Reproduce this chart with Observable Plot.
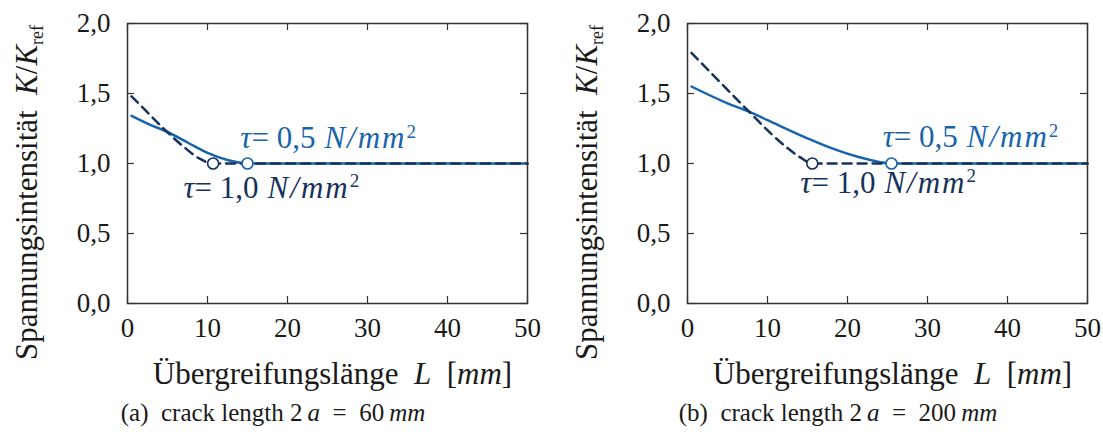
<!DOCTYPE html>
<html><head><meta charset="utf-8">
<script src="https://cdn.jsdelivr.net/npm/d3@7"></script>
<script src="https://cdn.jsdelivr.net/npm/@observablehq/plot@0.6"></script>
<style>
body{margin:0;background:#fff;}
#wrap{position:relative;width:1103px;height:435px;font-family:"Liberation Serif",serif;color:#1a1a1a;}
.panel{position:absolute;top:0;}
.cap{position:absolute;top:399px;font-size:25px;white-space:nowrap;transform:translateX(-50%);font-family:"Liberation Serif",serif;}
.cap i{font-style:italic;}
svg text, svg tspan{font-family:"Liberation Serif",serif;}
</style></head><body><div id="wrap"></div>
<script>
// ---- data ----
const xTicks = [0, 10, 20, 30, 40, 50];
const yTicks = [0, 0.5, 1.0, 1.5, 2.0];

// (a) crack length 2a = 60 mm
const aL_tau05 = [0.5, 2.5, 5, 7.5, 10, 12.5, 15, 50];
const aK_tau05 = [1.34, 1.285, 1.225, 1.15, 1.076, 1.025, 1.0, 1.0];
const aL_tau10 = [0.5, 2.5, 4.5, 7, 9, 10.7, 50];
const aK_tau10 = [1.48, 1.365, 1.25, 1.12, 1.035, 1.0, 1.0];
const aMarkL = [15, 10.7];

// (b) crack length 2a = 200 mm
const bL_tau05 = [0.5, 5, 7.7, 10, 15, 18, 21.5, 25.5, 50];
const bK_tau05 = [1.55, 1.43, 1.37, 1.31, 1.18, 1.11, 1.045, 1.0, 1.0];
const bL_tau10 = [0.5, 4, 7.7, 10.5, 12.5, 14.2, 15.6, 50];
const bK_tau10 = [1.79, 1.585, 1.37, 1.21, 1.11, 1.04, 1.0, 1.0];
const bMarkL = [25.5, 15.6];

const seriesNames = ["τ = 0,5", "τ = 1,0"];
const annoText = ["τ= 0,5 N/mm²", "τ= 1,0 N/mm²"];
const aAnnoPos = [[14.1, 1.11], [7.0, 0.755]];
const bAnnoPos = [[24.4, 1.115], [14.1, 0.79]];

const xLabel = "Übergreifungslänge  L  [mm]";
const yLabel = "Spannungsintensität  K/Kref";

// ---- styles ----
const C05 = "#1764ab";
const C10 = "#17325c";
const FONT = "Liberation Serif";

function toRows(L, K) { return L.map((l, i) => ({L: l, K: K[i]})); }

function rich(textEl, segs) {
  textEl.textContent = "";
  textEl.setAttribute("font-family", FONT);
  for (const s of segs) {
    const t = document.createElementNS("http://www.w3.org/2000/svg", "tspan");
    t.textContent = s.t;
    t.setAttribute("font-family", FONT);
    if (s.i) t.setAttribute("font-style", "italic");
    if (s.fs) t.setAttribute("font-size", s.fs);
    if (s.dy) t.setAttribute("dy", s.dy);
    if (s.dx) t.setAttribute("dx", s.dx);
    if (s.ls) t.setAttribute("letter-spacing", s.ls);
    textEl.appendChild(t);
  }
}

function panel(d) {
  const plotW = 400, plotH = 280;
  const rows05 = toRows(d.L05, d.K05);
  const rows10 = toRows(d.L10, d.K10);
  const marks = [d.mark[0], d.mark[1]].map((l, i) => ({L: l, K: 1.0, s: seriesNames[i]}));
  const anno = annoText.map((t, i) => ({t, L: d.anno[i][0], K: d.anno[i][1], s: seriesNames[i]}));
  const p = Plot.plot({
    width: d.width, height: 395,
    marginLeft: 127, marginRight: d.width - 127 - plotW, marginTop: 23, marginBottom: 92,
    x: {domain: [0, 50]},
    y: {domain: [0, 2]},
    color: {domain: seriesNames, range: [C05, C10]},
    style: {fontFamily: "'Liberation Serif', serif", fontSize: "27px", color: "#1a1a1a", background: "white", overflow: "visible"},
    marks: [
      Plot.axisX(xTicks, {tickSize: 0, tickPadding: 14, label: null, fontSize: 27}),
      Plot.axisY(yTicks, {tickSize: 0, tickPadding: 17, label: null, fontSize: 27,
        tickFormat: v => v.toFixed(1).replace(".", ",")}),
      Plot.tickX(xTicks, {x: v => v, insetTop: plotH - 7, stroke: "#333", strokeWidth: 1.2}),
      Plot.tickX(xTicks, {x: v => v, insetBottom: plotH - 7, stroke: "#333", strokeWidth: 1.2}),
      Plot.tickY(yTicks, {y: v => v, insetRight: plotW - 7, stroke: "#333", strokeWidth: 1.2}),
      Plot.tickY(yTicks, {y: v => v, insetLeft: plotW - 7, stroke: "#333", strokeWidth: 1.2}),
      Plot.line(rows05, {x: "L", y: "K", stroke: C05, strokeWidth: 2.5, curve: "monotone-x"}),
      Plot.line(rows10, {x: "L", y: "K", stroke: C10, strokeWidth: 2.5, strokeDasharray: "9,6", curve: "monotone-x"}),
      Plot.dot(marks, {x: "L", y: "K", stroke: "s", fill: "white", r: 5.5, strokeWidth: 1.6}),
      Plot.text(anno, {x: "L", y: "K", text: "t", fill: "s", textAnchor: "start", lineAnchor: "bottom", fontSize: 31}),
      Plot.frame({stroke: "#333", strokeWidth: 1.5}),
      Plot.text([xLabel], {frameAnchor: "bottom", dy: 80, dx: 5, lineAnchor: "bottom", textAnchor: "middle",
        fontSize: 31, fill: "#1a1a1a"}),
      Plot.text([yLabel], {frameAnchor: "left", rotate: -90, dx: -100, dy: 29, textAnchor: "middle", lineAnchor: "middle",
        fontSize: 31, fill: "#1a1a1a"})
    ]
  });
  p.querySelectorAll("text").forEach(el => {
    const s = el.textContent;
    if (s === annoText[0] || s === annoText[1]) {
      const num = s.includes("0,5") ? "0,5" : "1,0";
      rich(el, [{t: "τ", i: true}, {t: "= " + num}, {t: "N/mm", i: true, dx: "9", ls: "2"}, {t: "2", fs: "19px", dy: "-0.55em"}]);
    } else if (s === xLabel) {
      rich(el, [{t: "Übergreifungslänge  "}, {t: "L", i: true}, {t: "  ["}, {t: "mm", i: true}, {t: "]"}]);
    } else if (s === yLabel) {
      rich(el, [{t: "Spannungsintensität  "}, {t: "K", i: true}, {t: "/"}, {t: "K", i: true}, {t: "ref", fs: "18px", dy: "0.3em"}]);
    }
  });
  return p;
}

const wrap = document.getElementById("wrap");
const pa = panel({width: 550, L05: aL_tau05, K05: aK_tau05, L10: aL_tau10, K10: aK_tau10, mark: aMarkL, anno: aAnnoPos});
pa.classList.add("panel"); pa.style.left = "0px";
const pb = panel({width: 543, L05: bL_tau05, K05: bK_tau05, L10: bL_tau10, K10: bK_tau10, mark: bMarkL, anno: bAnnoPos});
pb.classList.add("panel"); pb.style.left = "560px";
wrap.appendChild(pa); wrap.appendChild(pb);

const caps = [
  {x: 273, html: '(a)&nbsp; crack length 2&thinsp;<i>a</i> &nbsp;= &nbsp;60&thinsp;<i>mm</i>'},
  {x: 838, html: '(b)&nbsp; crack length 2&thinsp;<i>a</i> &nbsp;= &nbsp;200&thinsp;<i>mm</i>'}
];
for (const c of caps) {
  const div = document.createElement("div");
  div.className = "cap"; div.style.left = c.x + "px"; div.innerHTML = c.html;
  wrap.appendChild(div);
}
</script></body></html>
